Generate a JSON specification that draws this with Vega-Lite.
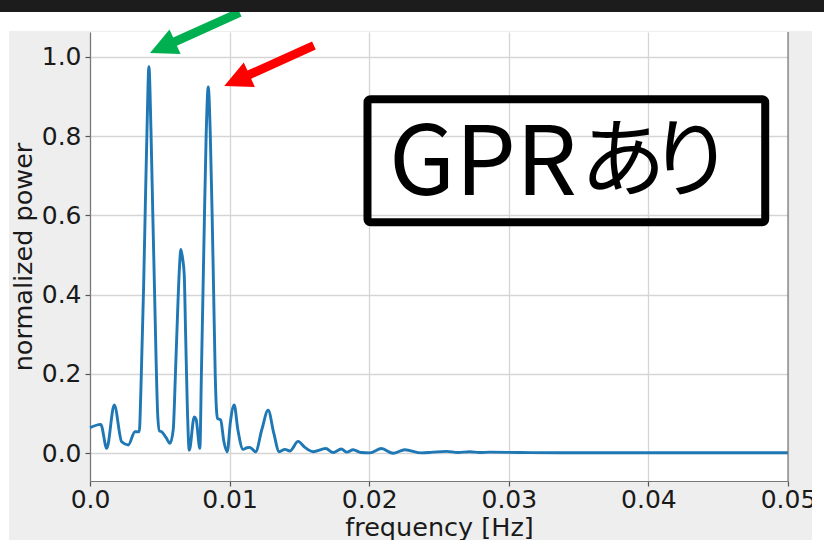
{
  "$schema": "https://vega.github.io/schema/vega-lite/v6.json",
  "width": 698,
  "height": 449,
  "autosize": {"type": "none"},
  "padding": {"left": 90, "top": 32, "right": 36, "bottom": 68},
  "background": "#eeeeee",
  "config": {"view": {"stroke": null, "fill": "white"}, "font": "DejaVu Sans"},
  "encoding": {
    "x": {
      "field": "freq", "type": "quantitative",
      "scale": {"domain": [0, 0.05], "nice": false, "zero": false},
      "axis": {
        "values": [0, 0.01, 0.02, 0.03, 0.04, 0.05],
        "labelExpr": "datum.value == 0 ? '0.0' : format(datum.value, '.2f')",
        "title": "frequency [Hz]",
        "labelFont": "DejaVu Sans", "labelFontSize": 25, "labelColor": "#1a1a1a",
        "labelBaseline": "alphabetic", "labelPadding": 21, "labelFlush": false, "labelOverlap": false, "labelBound": false,
        "tickSize": 5, "tickColor": "#555", "tickWidth": 1.2,
        "domainColor": "#777", "domainWidth": 1.2,
        "gridColor": "#d5d5d5", "gridWidth": 1.3,
        "titleFont": "DejaVu Sans", "titleFontSize": 25.5, "titleFontWeight": "normal", "titleColor": "#1a1a1a",
        "titleBaseline": "alphabetic", "titleY": 54
      }
    },
    "y": {
      "field": "power", "type": "quantitative",
      "scale": {"domain": [-0.0698, 1.0623], "nice": false, "zero": false},
      "axis": {
        "values": [0, 0.2, 0.4, 0.6, 0.8, 1.0],
        "format": ".1f",
        "title": "normalized power",
        "labelFont": "DejaVu Sans", "labelFontSize": 25, "labelColor": "#1a1a1a",
        "labelPadding": 4, "labelFlush": false, "labelOverlap": false, "labelBound": false,
        "tickSize": 5, "tickColor": "#555", "tickWidth": 1.2,
        "domainColor": "#777", "domainWidth": 1.2,
        "gridColor": "#d5d5d5", "gridWidth": 1.3,
        "titleFont": "DejaVu Sans", "titleFontSize": 25.5, "titleFontWeight": "normal", "titleColor": "#1a1a1a",
        "titleBaseline": "alphabetic", "titleX": -59
      }
    }
  },
  "layer": [
    {
      "data": {"values": [
        {"freq": 0, "power": 0.0645},
        {"freq": 0.00077, "power": 0.073},
        {"freq": 0.0012, "power": 0.0126},
        {"freq": 0.00174, "power": 0.122},
        {"freq": 0.00227, "power": 0.029},
        {"freq": 0.00274, "power": 0.021},
        {"freq": 0.00322, "power": 0.0545},
        {"freq": 0.00353, "power": 0.0545},
        {"freq": 0.00363, "power": 0.14},
        {"freq": 0.00372, "power": 0.26},
        {"freq": 0.00384, "power": 0.42},
        {"freq": 0.00396, "power": 0.62},
        {"freq": 0.00408, "power": 0.81},
        {"freq": 0.00422, "power": 0.975},
        {"freq": 0.00437, "power": 0.81},
        {"freq": 0.0045, "power": 0.6},
        {"freq": 0.00463, "power": 0.4},
        {"freq": 0.00474, "power": 0.228},
        {"freq": 0.00486, "power": 0.09},
        {"freq": 0.00498, "power": 0.056},
        {"freq": 0.00513, "power": 0.0545},
        {"freq": 0.00544, "power": 0.04},
        {"freq": 0.00573, "power": 0.025},
        {"freq": 0.00596, "power": 0.059},
        {"freq": 0.00612, "power": 0.2},
        {"freq": 0.00628, "power": 0.36},
        {"freq": 0.00641, "power": 0.47},
        {"freq": 0.00651, "power": 0.514},
        {"freq": 0.00664, "power": 0.49},
        {"freq": 0.00675, "power": 0.45},
        {"freq": 0.00685, "power": 0.3},
        {"freq": 0.00697, "power": 0.12},
        {"freq": 0.00711, "power": 0.008},
        {"freq": 0.00747, "power": 0.092},
        {"freq": 0.0076, "power": 0.086},
        {"freq": 0.00787, "power": 0.0126},
        {"freq": 0.00798, "power": 0.2},
        {"freq": 0.00809, "power": 0.4},
        {"freq": 0.0082, "power": 0.6},
        {"freq": 0.00832, "power": 0.8},
        {"freq": 0.00847, "power": 0.924},
        {"freq": 0.00862, "power": 0.8},
        {"freq": 0.00875, "power": 0.6},
        {"freq": 0.00886, "power": 0.4},
        {"freq": 0.00897, "power": 0.2},
        {"freq": 0.00906, "power": 0.11},
        {"freq": 0.00914, "power": 0.088},
        {"freq": 0.00936, "power": 0.084},
        {"freq": 0.00959, "power": 0.03},
        {"freq": 0.00983, "power": 0.004},
        {"freq": 0.01006, "power": 0.08},
        {"freq": 0.01033, "power": 0.122},
        {"freq": 0.01059, "power": 0.06},
        {"freq": 0.01097, "power": 0.01},
        {"freq": 0.01124, "power": 0.014},
        {"freq": 0.01145, "power": 0.015},
        {"freq": 0.01186, "power": 0.004},
        {"freq": 0.01231, "power": 0.06},
        {"freq": 0.01276, "power": 0.109},
        {"freq": 0.01317, "power": 0.05},
        {"freq": 0.01355, "power": 0.004},
        {"freq": 0.01396, "power": 0.01},
        {"freq": 0.01432, "power": 0.006},
        {"freq": 0.01491, "power": 0.03},
        {"freq": 0.01539, "power": 0.015},
        {"freq": 0.01598, "power": 0.004},
        {"freq": 0.01689, "power": 0.012},
        {"freq": 0.01742, "power": 0.002},
        {"freq": 0.018, "power": 0.011},
        {"freq": 0.0184, "power": 0.003},
        {"freq": 0.01885, "power": 0.009},
        {"freq": 0.0194, "power": 0.002},
        {"freq": 0.02004, "power": 0.001},
        {"freq": 0.02088, "power": 0.012},
        {"freq": 0.02171, "power": 0.0},
        {"freq": 0.02255, "power": 0.009},
        {"freq": 0.02374, "power": 0.001},
        {"freq": 0.02455, "power": 0.003},
        {"freq": 0.02553, "power": 0.005},
        {"freq": 0.02634, "power": 0.002},
        {"freq": 0.0272, "power": 0.004},
        {"freq": 0.02792, "power": 0.002},
        {"freq": 0.02863, "power": 0.003},
        {"freq": 0.03078, "power": 0.002},
        {"freq": 0.03364, "power": 0.0015},
        {"freq": 0.03794, "power": 0.0015},
        {"freq": 0.04367, "power": 0.0015},
        {"freq": 0.05, "power": 0.0015}
      ]},
      "mark": {"type": "line", "color": "#1f77b4", "strokeWidth": 2.9, "interpolate": "monotone"}
    },
    {
      "data": {"values": [{"freq": 0.05, "power": -0.0698, "power2": 1.0623}]},
      "mark": {"type": "rule", "color": "#777", "strokeWidth": 1.2},
      "encoding": {"y2": {"field": "power2"}}
    },
    {
      "data": {"values": [{"freq": 0.019878, "freq2": 0.048368, "power": 0.8926, "power2": 0.5824}]},
      "mark": {"type": "rect", "filled": false, "stroke": "black", "strokeWidth": 8, "cornerRadius": 3},
      "encoding": {"x2": {"field": "freq2"}, "y2": {"field": "power2"}}
    },
    {
      "data": {"values": [{"freq": 0.02142, "power": 0.6513}]},
      "mark": {"type": "text", "text": "GPR", "font": "Noto Sans CJK JP", "fontSize": 96, "align": "left", "baseline": "alphabetic", "color": "black"}
    },
    {
      "data": {"values": [
        {"glyph": "あ", "freq": 0.03818, "power": 0.6639},
        {"glyph": "り", "freq": 0.04305, "power": 0.6639}
      ]},
      "mark": {"type": "text", "font": "Noto Sans CJK JP", "fontSize": 86, "align": "center", "baseline": "alphabetic", "color": "black"},
      "encoding": {"text": {"field": "glyph", "type": "nominal"}}
    },
    {
      "data": {"values": [
        {"freq": -0.0066, "freq2": 0.0528, "power": 1.0648, "power2": 1.16},
        {"freq": -0.0066, "freq2": -0.0058, "power": -0.26, "power2": 1.16},
        {"freq": 0.05172, "freq2": 0.0528, "power": -0.26, "power2": 1.16},
        {"freq": -0.0066, "freq2": 0.0528, "power": -0.2186, "power2": -0.26}
      ]},
      "mark": {"type": "rect", "color": "white"},
      "encoding": {"x2": {"field": "freq2"}, "y2": {"field": "power2"}}
    },
    {
      "data": {"values": [
        {"arrow": "green", "freq": 0.007509, "power": 1.0604},
        {"arrow": "red", "freq": 0.012828, "power": 0.9772}
      ]},
      "mark": {"type": "point", "filled": true, "opacity": 1, "strokeWidth": 0, "size": 9683, "angle": 245.7,
        "shape": "M0,-1L0.274,-0.441L0.091,-0.441L0.091,1L-0.091,1L-0.091,-0.441L-0.274,-0.441Z"},
      "encoding": {"color": {"field": "arrow", "type": "nominal", "scale": {"domain": ["green", "red"], "range": ["#00b050", "#ff0000"]}, "legend": null}}
    },
    {
      "data": {"values": [{"freq": -0.0066, "freq2": 0.0528, "power": 1.1127, "power2": 1.16}]},
      "mark": {"type": "rect", "color": "#1c1c1c"},
      "encoding": {"x2": {"field": "freq2"}, "y2": {"field": "power2"}}
    }
  ]
}
